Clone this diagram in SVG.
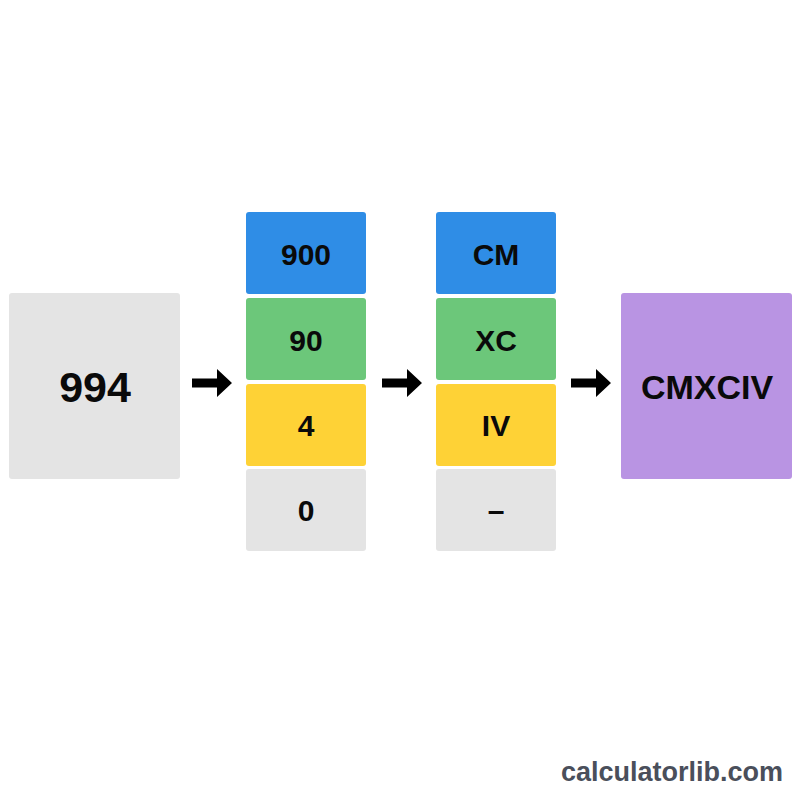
<svg xmlns="http://www.w3.org/2000/svg" width="800" height="800" viewBox="0 0 800 800">
<style>
.t{font-family:"Liberation Sans",Arial,sans-serif;font-weight:bold;fill:#0a0a0a;text-anchor:middle;dominant-baseline:central}
.c{font-size:30px}
.gray{fill:#e4e4e4}
.blue{fill:#2f8de6}
.green{fill:#6cc77a}
.yellow{fill:#fed236}
.purple{fill:#b994e3}
.arr{fill:#000}
</style>
<rect width="800" height="800" fill="#fff"/>
<g id="input">
<rect class="gray" x="9" y="293" width="171" height="186" rx="3"/>
<text class="t" x="95" y="387" font-size="43">994</text>
</g>
<g id="col1">
<g id="v900"><rect class="blue" x="246" y="212" width="120" height="82" rx="3"/><text class="t c" x="306" y="254">900</text></g>
<g id="v90"><rect class="green" x="246" y="298" width="120" height="82" rx="3"/><text class="t c" x="306" y="340">90</text></g>
<g id="v4"><rect class="yellow" x="246" y="384" width="120" height="82" rx="3"/><text class="t c" x="306" y="425">4</text></g>
<g id="v0"><rect class="gray" x="246" y="469" width="120" height="82" rx="3"/><text class="t c" x="306" y="510">0</text></g>
</g>
<g id="col2">
<g id="rCM"><rect class="blue" x="436" y="212" width="120" height="82" rx="3"/><text class="t c" x="496" y="254">CM</text></g>
<g id="rXC"><rect class="green" x="436" y="298" width="120" height="82" rx="3"/><text class="t c" x="496" y="340">XC</text></g>
<g id="rIV"><rect class="yellow" x="436" y="384" width="120" height="82" rx="3"/><text class="t c" x="496" y="425">IV</text></g>
<g id="rNone"><rect class="gray" x="436" y="469" width="120" height="82" rx="3"/><text class="t c" x="496" y="510">–</text></g>
</g>
<g id="output">
<rect class="purple" x="621" y="293" width="171" height="186" rx="3"/>
<text class="t" x="707" y="387" font-size="34">CMXCIV</text>
</g>
<g id="connectors">
<path class="arr" d="M192 378.5H217V369L232 383L217 397V387.5H192Z"/>
<path class="arr" d="M382 378.5H407V369L422 383L407 397V387.5H382Z"/>
<path class="arr" d="M571 378.5H596V369L611 383L596 397V387.5H571Z"/>
</g>
<text x="672" y="781" font-family="'Liberation Sans',Arial,sans-serif" font-weight="bold" font-size="27" fill="#4a4f5b" text-anchor="middle">calculatorlib.com</text>
</svg>
